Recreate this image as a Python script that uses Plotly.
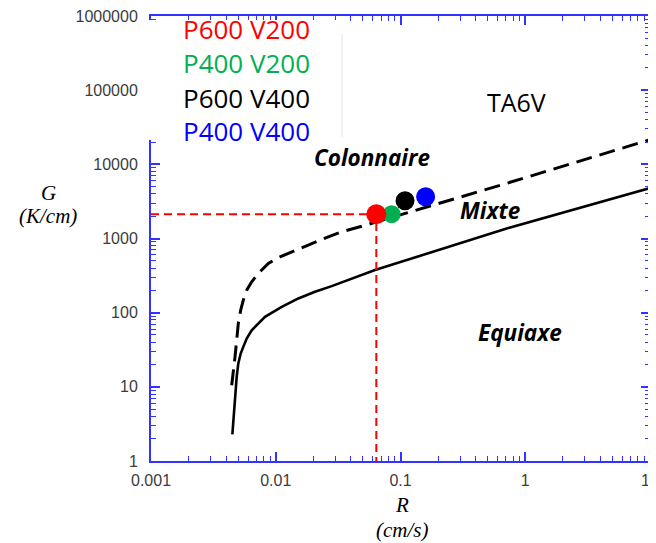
import plotly.graph_objects as go

# ---- data ----
R_solid = [0.00449, 0.004714, 0.004864, 0.00501, 0.005236, 0.005494, 0.00585, 0.006415, 0.007245, 0.0082,
           0.00956, 0.01117, 0.01517, 0.02064, 0.02808, 0.0382, 0.0625, 0.71, 10.0]
G_solid = [2.29, 7.31, 13.6, 20.6, 28.1, 34.6, 44.9, 58.0, 71.5, 87.7,
           102.5, 119.7, 155.5, 190.9, 227.9, 275, 375, 1368, 4800]

R_dash = [0.004436, 0.004569, 0.004714, 0.004864, 0.00501, 0.005236, 0.005494, 0.00585, 0.006415, 0.007245,
          0.008715, 0.01082, 0.01342, 0.01662, 0.02064, 0.02637, 0.03379, 0.0473, 0.71, 10.0]
G_dash = [10.51, 15.12, 25.32, 42.55, 71.5, 108.1, 147.5, 201.2, 260.4, 338,
          461.3, 566, 661.5, 772.7, 902.7, 1054, 1231, 1439, 5543, 21500]

point_names = ["P600 V200", "P400 V200", "P600 V400", "P400 V400"]
point_R = [0.064, 0.0849, 0.1087, 0.159]
point_G = [2120, 2130, 3228, 3654]
point_colors = ["#FF0000", "#00B050", "#000000", "#0000FF"]

x_tickvals = [0.001, 0.01, 0.1, 1, 10]
x_ticktext = ["0.001", "0.01", "0.1", "1", "10"]
y_tickvals = [1, 10, 100, 1000, 10000, 100000, 1000000]
y_ticktext = ["1", "10", "100", "1000", "10000", "100000", "1000000"]

region_labels = ["Colonnaire", "Mixte", "Equiaxe"]

fig = go.Figure()

# curves
fig.add_trace(go.Scatter(x=R_dash, y=G_dash, mode="lines", line=dict(color="black", width=3, dash="16px,8px"), hoverinfo="skip"))
fig.add_trace(go.Scatter(x=R_solid, y=G_solid, mode="lines", line=dict(color="black", width=2.6), hoverinfo="skip"))

# red dashed guide lines from the red point
fig.add_trace(go.Scatter(x=[x_tickvals[0], point_R[0], point_R[0]], y=[point_G[0], point_G[0], y_tickvals[0]],
                         mode="lines", line=dict(color="#FF0000", width=2, dash="8px,5px"), hoverinfo="skip"))

# points (green first so red lies on top)
sizes = [20, 18, 19, 19]
for i in [1, 0, 2, 3]:
    fig.add_trace(go.Scatter(x=[point_R[i]], y=[point_G[i]], mode="markers",
                             marker=dict(color=point_colors[i], size=sizes[i], line=dict(width=0)),
                             name=point_names[i]))

axis_blue = "#3333FF"
tickfont = dict(family="Liberation Sans, Arial, sans-serif", size=16, color="#3c3c3c")
common = dict(showgrid=False, zeroline=False, showline=True, linecolor=axis_blue, linewidth=2,
              mirror="ticks", ticks="inside", ticklen=9, tickwidth=1.5, tickcolor=axis_blue,
              tickmode="array", tickfont=tickfont, automargin=False, ticklabeloverflow="allow",
              minor=dict(ticks="inside", ticklen=5, tickwidth=1.2, tickcolor=axis_blue, dtick="D1", showgrid=False))

fig.update_xaxes(type="log", range=[-3, 1], tickvals=x_tickvals, ticktext=x_ticktext, ticklabelstandoff=4, **common)
fig.update_yaxes(type="log", range=[0, 6], tickvals=y_tickvals, ticktext=y_ticktext, ticklabelstandoff=8, **common)

# the page body adds an 8px offset; target window coordinates are converted below
OFF = 8
W, H = 648, 535
L, T = 151 - OFF, 16 - OFF
R_ = W - (650 - OFF)
B = H - (460.7 - OFF)
pw, ph = W - L - R_, H - T - B

def px(x):
    return (x - OFF - L) / pw

def py(y):
    return (H - B - (y - OFF)) / ph

annotations = []
legend_font = "Open Sans, Noto Sans, sans-serif"
legend_y = [28.7, 62.5, 97.8, 130.8]
for name, col, yy in zip(point_names, point_colors, legend_y):
    annotations.append(dict(text=name, x=px(181), y=py(yy), xref="paper", yref="paper", xanchor="left", yanchor="middle",
                            showarrow=False, font=dict(family=legend_font, size=26, color=col)))
annotations.append(dict(text="TA6V", x=px(516.7), y=py(101.7), xref="paper", yref="paper", xanchor="center", yanchor="middle",
                        showarrow=False, font=dict(family=legend_font, size=25, color="black")))
region_pos = [(371.7, 157), (490, 210), (520, 332)]
for lab, (xx, yy) in zip(region_labels, region_pos):
    annotations.append(dict(text="<b><i>" + lab + "</i></b>", x=px(xx), y=py(yy), xref="paper", yref="paper",
                            xanchor="center", yanchor="middle", showarrow=False,
                            font=dict(family=legend_font, size=22.5, color="black")))

serif = "Liberation Serif, Times New Roman, serif"
for txt, xx, yy in [("<i>G</i>", 48, 193), ("<i>(K/cm)</i>", 48, 216), ("<i>R</i>", 401.7, 505), ("<i>(cm/s)</i>", 401.7, 530)]:
    annotations.append(dict(text=txt, x=px(xx), y=py(yy), xref="paper", yref="paper", xanchor="center", yanchor="middle",
                            showarrow=False, font=dict(family=serif, size=21, color="black")))

shapes = [
    dict(type="rect", xref="paper", yref="paper", x0=px(144), x1=px(341), y0=py(140), y1=py(20),
         fillcolor="white", line=dict(width=0), layer="above"),
    dict(type="line", xref="paper", yref="paper", x0=px(342), x1=px(342), y0=py(137), y1=py(34),
         line=dict(color="#e4e4e4", width=1), layer="above"),
]

fig.update_layout(width=W, height=H, margin=dict(l=L, r=R_, t=T, b=B), plot_bgcolor="white", paper_bgcolor="white",
                  showlegend=False, annotations=annotations, shapes=shapes)

fig.write_html("out.html")
